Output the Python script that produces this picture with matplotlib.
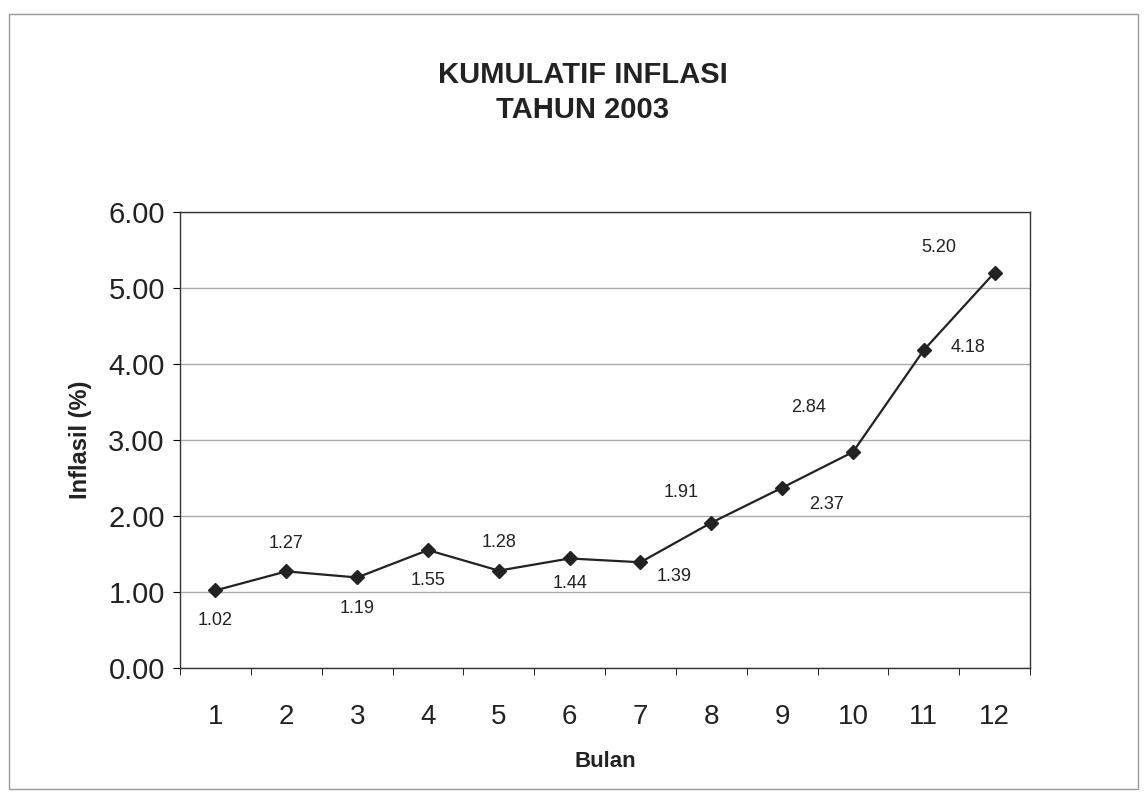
import numpy as np
import matplotlib.pyplot as plt

bulan = [1, 2, 3, 4, 5, 6, 7, 8, 9, 10, 11, 12]
inflasi = [1.02, 1.27, 1.19, 1.55, 1.28, 1.44, 1.39, 1.91, 2.37, 2.84, 4.18, 5.20]
# where each value label sits relative to its point (points)
label_offsets = [(0, -22), (0, 20), (0, -22), (0, -22), (0, 20), (0, -18),
                 (24, -10), (-22, 22), (32, -12), (-32, 32), (32, 2), (-40, 18)]

plt.rcParams['font.family'] = ['Liberation Sans', 'DejaVu Sans']

fig = plt.figure(figsize=(11.47, 7.99), dpi=100)
fig.patches.append(plt.Rectangle((0.008, 0.012), 0.984, 0.97, transform=fig.transFigure,
                                 fill=False, edgecolor='#999999', linewidth=1))
ax = fig.add_axes([0.157, 0.164, 0.741, 0.571])

ax.plot(bulan, inflasi, color='#222222', linewidth=1.6, marker='D', markersize=7,
        markerfacecolor='#222222', markeredgecolor='#222222')

for x, y, off in zip(bulan, inflasi, label_offsets):
    ax.annotate(f"{y:.2f}", (x, y), xytext=off, textcoords='offset points',
                ha='center', va='center', fontsize=13, color='#222222')

ax.set_xlim(0.5, 12.5)
ax.set_ylim(0, 6)
ax.set_yticks(np.arange(0, 7, 1))
ax.set_yticklabels([f"{v:.2f}" for v in np.arange(0, 7, 1)])
ax.set_xticks(bulan)
ax.set_xticks(np.arange(0.5, 13, 1), minor=True)
ax.tick_params(axis='x', which='major', length=0, pad=26, labelsize=20)
ax.tick_params(axis='x', which='minor', length=5, direction='out')
ax.tick_params(axis='y', length=5, direction='out', labelsize=21, pad=6)
for lab in ax.get_xticklabels() + ax.get_yticklabels():
    lab.set_color('#222222')

ax.grid(axis='y', color='#aaaaaa', linewidth=1)
ax.set_axisbelow(True)
for s in ax.spines.values():
    s.set_color('#333333')
    s.set_linewidth(1)

ax.set_xlabel('Bulan', fontsize=16, fontweight='bold', labelpad=15, color='#222222')
ax.set_ylabel('Inflasil (%)', fontsize=17, fontweight='bold', labelpad=12, color='#222222')
fig.text(0.508, 0.884, 'KUMULATIF INFLASI\nTAHUN 2003', ha='center', va='center',
         fontsize=21, fontweight='bold', linespacing=1.3, color='#222222')

fig.savefig('out.png', dpi=100)
